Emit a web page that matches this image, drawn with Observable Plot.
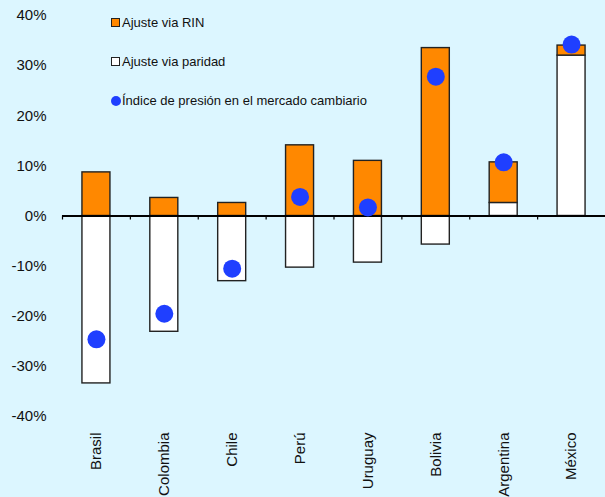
<!DOCTYPE html>
<html>
<head>
<meta charset="utf-8">
<script src="https://cdn.jsdelivr.net/npm/d3@7"></script>
<script src="https://cdn.jsdelivr.net/npm/@observablehq/plot@0.6"></script>
<style>
  html, body { margin: 0; padding: 0; background: #dcf6ff; }
  #wrap { position: relative; width: 605px; height: 497px; background: #dcf6ff; overflow: hidden; font-family: "Liberation Sans", Arial, sans-serif; }
  #legend { position: absolute; left: 111px; top: 15px; font-size: 13px; color: #111; }
  .item { position: absolute; white-space: nowrap; display: flex; align-items: center; }
  .sw { display: inline-block; width: 7px; height: 7px; border: 1px solid #222; margin-right: 2px; }
  .dotsw { display: inline-block; width: 10px; height: 10px; border-radius: 50%; background: #1f3fff; margin-right: 1px; margin-left: 0px; }
</style>
</head>
<body>
<div id="wrap">
  <div id="chart"></div>
  <div id="legend"></div>
</div>
<script>
const countries = ["Brasil", "Colombia", "Chile", "Perú", "Uruguay", "Bolivia", "Argentina", "México"];
const paridad = [-33.4, -23.1, -13.0, -10.3, -9.3, -5.7, 2.6, 32.0];
const rin = [8.7, 3.6, 2.6, 14.1, 11.0, 33.5, 8.1, 2.0];
const indice = [-24.6, -19.5, -10.5, 3.8, 1.7, 27.8, 10.7, 34.2];
const yTicks = [-40, -30, -20, -10, 0, 10, 20, 30, 40];
const seriesNames = ["Ajuste via RIN", "Ajuste via paridad", "Índice de presión en el mercado cambiario"];
const colors = { rin: "#ff8800", paridad: "#ffffff", indice: "#1f3fff" };

const rows = [
  ...countries.map((c, i) => ({ country: c, series: seriesNames[1], value: paridad[i] })),
  ...countries.map((c, i) => ({ country: c, series: seriesNames[0], value: rin[i] }))
];
const dots = countries.map((c, i) => ({ country: c, value: indice[i] }));

const W = 605, H = 497, ML = 62, MR = 0;
const step = (W - ML - MR) / countries.length;
const barW = 28;

const chart = Plot.plot({
  width: W,
  height: H,
  marginLeft: ML,
  marginRight: MR,
  marginTop: 15,
  marginBottom: 81,
  style: { background: "transparent", fontFamily: "'Liberation Sans', Arial, sans-serif", fontSize: "15px", color: "#111" },
  x: { domain: countries, padding: 0, round: false, label: null },
  y: { domain: [-40, 40], label: null },
  color: { domain: [seriesNames[1], seriesNames[0]], range: [colors.paridad, colors.rin] },
  marks: [
    Plot.axisY({ ticks: yTicks, tickSize: 0, tickPadding: 16, tickFormat: d => `${d}%`, label: null, fill: "#111" }),
    Plot.axisX({ tickSize: 0, tickPadding: 16, tickRotate: -90, label: null, fill: "#111" }),
    Plot.barY(rows, Plot.stackY({
      x: "country", y: "value", fill: "series", order: null,
      stroke: "#222", strokeWidth: 1.4,
      insetLeft: (step - barW) / 2, insetRight: (step - barW) / 2
    })),
    Plot.ruleY([0], { stroke: "#000", strokeWidth: 2.2 }),
    Plot.ruleX(countries, { x: d => d, y1: 0, y2: 0, insetBottom: -4, dx: -step / 2, stroke: "#000", strokeWidth: 1.2 }),
    Plot.dot(dots, { x: "country", y: "value", r: 9, fill: colors.indice, stroke: "none" })
  ]
});
document.getElementById("chart").appendChild(chart);

const legend = document.getElementById("legend");
const items = [
  { label: seriesNames[0], kind: "sq", color: colors.rin, top: 0 },
  { label: seriesNames[1], kind: "sq", color: colors.paridad, top: 39 },
  { label: seriesNames[2], kind: "dot", color: colors.indice, top: 78 }
];
for (const it of items) {
  const d = document.createElement("div");
  d.className = "item";
  d.style.top = it.top + "px";
  const s = document.createElement("span");
  if (it.kind === "sq") { s.className = "sw"; s.style.background = it.color; }
  else { s.className = "dotsw"; }
  d.appendChild(s);
  const t = document.createElement("span");
  t.textContent = it.label;
  d.appendChild(t);
  legend.appendChild(d);
}
</script>
</body>
</html>
